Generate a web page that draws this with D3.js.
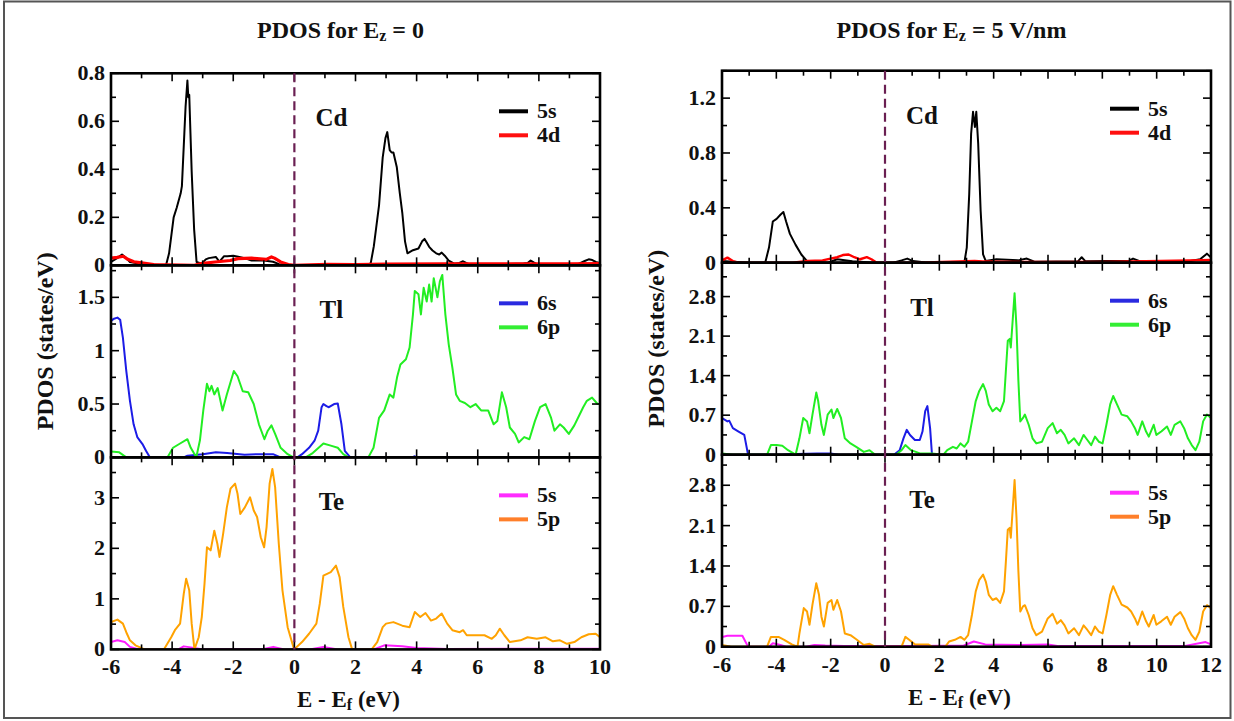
<!DOCTYPE html>
<html>
<head>
<meta charset="utf-8">
<script src="https://cdn.jsdelivr.net/npm/d3@7"></script>
<style>
  body { margin: 0; background: #fff; }
</style>
</head>
<body>
<div id="chart"></div>
<script>
// ---- data: energies (eV) and PDOS (states/eV) ----
// Ez = 0
var cd5s_0 = [[-6,0.014],[-5.8,0.03],[-5.64,0.045],[-5.5,0.03],[-5.38,0.014],[-5,0.005],[-4.2,0],[-4.1,0.05],[-3.95,0.2],[-3.85,0.24],[-3.72,0.3],[-3.68,0.33],[-3.6,0.55],[-3.56,0.66],[-3.5,0.77],[-3.47,0.7],[-3.44,0.71],[-3.4,0.55],[-3.36,0.39],[-3.28,0.15],[-3.2,0.014],[-3.03,0.007],[-2.9,0.025],[-2.8,0.03],[-2.57,0.035],[-2.45,0.015],[-2.3,0.038],[-2.2,0.038],[-2.0,0.04],[-1.8,0.035],[-1.63,0.03],[-1.4,0.02],[-1.0,0.02],[-0.7,0.015],[-0.5,0.005],[0,0],[1,0],[2.4,0],[2.5,0.01],[2.6,0.08],[2.77,0.25],[2.89,0.45],[2.98,0.53],[3.04,0.555],[3.12,0.48],[3.18,0.47],[3.24,0.47],[3.35,0.41],[3.45,0.3],[3.53,0.22],[3.62,0.1],[3.7,0.05],[3.88,0.063],[4.06,0.07],[4.18,0.1],[4.26,0.11],[4.33,0.095],[4.41,0.077],[4.52,0.062],[4.64,0.05],[4.74,0.045],[4.82,0.053],[4.92,0.04],[5.05,0.02],[5.23,0.007],[5.4,0.01],[5.52,0.017],[5.62,0.01],[5.76,0.003],[6.5,0.003],[7.5,0.008],[7.63,0.01],[7.73,0.02],[7.83,0.012],[7.93,0.005],[9.28,0.005],[9.5,0.018],[9.63,0.025],[9.75,0.022],[9.86,0.014],[10,0.01]];
var cd4d_0 = [[-6,0.03],[-5.8,0.033],[-5.6,0.038],[-5.45,0.025],[-5.25,0.015],[-5,0.01],[-4.6,0.003],[-3.27,0],[-3.05,0.007],[-2.6,0.014],[-2.1,0.02],[-1.85,0.028],[-1.4,0.03],[-0.92,0.025],[-0.75,0.035],[-0.65,0.03],[-0.45,0.014],[-0.2,0.003],[0,0],[1.07,0.004],[2,0.003],[3,0.005],[5,0.006],[7,0.006],[9,0.006],[10,0.007]];
var tl6s_0 = [[-6,1.28],[-5.9,1.3],[-5.79,1.31],[-5.7,1.29],[-5.61,1.12],[-5.5,0.81],[-5.38,0.53],[-5.26,0.31],[-5.14,0.19],[-4.97,0.125],[-4.85,0.06],[-4.73,0],[-3.62,0],[-3.5,0.015],[-3,0.03],[-2.57,0.047],[-2.2,0.04],[-1.63,0.025],[-1.2,0.03],[-0.7,0.03],[-0.45,0],[0.1,0],[0.25,0.03],[0.48,0.09],[0.66,0.156],[0.78,0.25],[0.89,0.47],[0.95,0.5],[1.05,0.48],[1.13,0.47],[1.3,0.5],[1.42,0.505],[1.54,0.31],[1.65,0.06],[1.83,0],[3.85,0],[3.94,0.01],[4.02,0],[10,0]];
var tl6p_0 = [[-6,0.056],[-5.73,0.047],[-5.5,0],[-4.15,0],[-3.97,0.09],[-3.74,0.13],[-3.5,0.17],[-3.39,0.09],[-3.21,0],[-3.09,0.16],[-2.98,0.44],[-2.86,0.69],[-2.78,0.62],[-2.71,0.67],[-2.62,0.59],[-2.51,0.65],[-2.35,0.44],[-2.21,0.59],[-1.98,0.81],[-1.86,0.76],[-1.69,0.62],[-1.51,0.61],[-1.33,0.5],[-1.16,0.31],[-0.98,0.17],[-0.87,0.25],[-0.75,0.3],[-0.63,0.22],[-0.45,0.09],[-0.22,0.03],[-0.03,0],[0.37,0],[0.6,0.04],[0.95,0.13],[1.19,0.11],[1.42,0.09],[1.6,0.03],[1.77,0],[2.42,0],[2.59,0.09],[2.77,0.37],[2.94,0.44],[3.12,0.59],[3.24,0.56],[3.36,0.75],[3.47,0.87],[3.65,0.92],[3.77,1.03],[3.88,1.34],[3.94,1.56],[4.06,1.53],[4.14,1.34],[4.23,1.59],[4.33,1.46],[4.41,1.62],[4.49,1.46],[4.56,1.68],[4.68,1.5],[4.76,1.65],[4.84,1.71],[4.94,1.34],[5.05,1.06],[5.17,0.84],[5.29,0.59],[5.41,0.53],[5.58,0.51],[5.76,0.47],[5.93,0.5],[6.11,0.44],[6.34,0.44],[6.52,0.31],[6.64,0.34],[6.79,0.61],[6.93,0.47],[7.05,0.28],[7.22,0.22],[7.34,0.14],[7.52,0.19],[7.69,0.17],[7.87,0.34],[8.04,0.47],[8.22,0.5],[8.4,0.37],[8.51,0.25],[8.69,0.31],[8.81,0.28],[8.98,0.22],[9.16,0.3],[9.33,0.4],[9.45,0.47],[9.57,0.53],[9.74,0.56],[9.92,0.5],[10,0.5]];
var te5s_0 = [[-6,0.145],[-5.79,0.18],[-5.55,0.145],[-5.38,0.05],[-5.08,0],[-3.8,0],[-3.62,0.06],[-3.39,0.04],[-3.03,0.005],[-1,0.01],[-0.69,0.05],[-0.33,0],[0.5,0],[0.95,0.05],[1.42,0],[2.6,0],[2.94,0.08],[3.53,0.06],[4,0.03],[5,0.01],[10,0.015]];
var te5p_0 = [[-6,0.54],[-5.79,0.59],[-5.61,0.51],[-5.5,0.34],[-5.38,0.18],[-5.2,0.08],[-4.9,0],[-4.27,0],[-4.03,0.24],[-3.91,0.38],[-3.74,0.51],[-3.62,1.1],[-3.54,1.4],[-3.44,1.17],[-3.36,0.51],[-3.27,0],[-3.13,0.24],[-3.03,0.64],[-2.94,1.3],[-2.86,2.02],[-2.74,1.96],[-2.62,2.35],[-2.52,2.09],[-2.45,1.83],[-2.33,2.29],[-2.21,2.81],[-2.09,3.18],[-1.94,3.28],[-1.86,3.08],[-1.77,2.68],[-1.62,2.81],[-1.45,3.01],[-1.33,2.75],[-1.22,2.62],[-1.1,2.22],[-0.99,2.02],[-0.91,2.42],[-0.81,3.28],[-0.72,3.57],[-0.63,3.21],[-0.51,2.09],[-0.39,1.17],[-0.22,0.44],[-0.01,0],[0.25,0.145],[0.48,0.31],[0.72,0.51],[0.83,0.9],[0.95,1.46],[1.19,1.53],[1.36,1.66],[1.48,1.43],[1.6,0.84],[1.77,0.24],[1.89,0],[2.53,0],[2.71,0.145],[2.89,0.44],[3.0,0.51],[3.24,0.54],[3.53,0.47],[3.77,0.44],[3.94,0.74],[4.12,0.64],[4.29,0.72],[4.47,0.57],[4.64,0.61],[4.82,0.71],[5.0,0.51],[5.17,0.38],[5.41,0.34],[5.52,0.38],[5.64,0.28],[5.93,0.28],[6.22,0.28],[6.46,0.21],[6.59,0.28],[6.72,0.41],[6.87,0.28],[7.05,0.145],[7.4,0.18],[7.63,0.24],[7.93,0.21],[8.22,0.24],[8.46,0.16],[8.69,0.18],[8.92,0.11],[9.16,0.145],[9.39,0.24],[9.63,0.3],[9.86,0.31],[10,0.24]];

// Ez = 5 V/nm
var cd5s_5 = [[-6,0.012],[-5,0],[-4.41,0],[-4.27,0.11],[-4.13,0.3],[-3.99,0.32],[-3.85,0.35],[-3.74,0.37],[-3.64,0.3],[-3.5,0.21],[-3.29,0.13],[-3.08,0.06],[-2.87,0.012],[-2.1,0],[-1.76,0.025],[-1.2,0.01],[-0.36,0],[0.3,0],[0.61,0.017],[0.82,0.03],[1.03,0.012],[1.59,0],[2.92,0],[3.01,0.11],[3.1,0.5],[3.17,0.94],[3.24,1.1],[3.31,0.99],[3.36,1.1],[3.43,0.87],[3.52,0.38],[3.61,0.06],[3.71,0.012],[4.1,0.025],[4.9,0.017],[5.22,0.03],[5.5,0.007],[7.1,0.01],[7.24,0.04],[7.38,0.01],[8.99,0.015],[9.13,0.03],[9.4,0.01],[11.2,0.01],[11.6,0.025],[11.85,0.066],[12,0.037]];
var cd4d_5 = [[-6,0.017],[-5.8,0.037],[-5.6,0.012],[-5.4,0],[-3.4,0],[-2.85,0.012],[-2.3,0.017],[-1.76,0.04],[-1.55,0.056],[-1.34,0.06],[-1.13,0.04],[-0.92,0.025],[-0.67,0.04],[-0.5,0.025],[-0.3,0],[1.5,0.002],[3.3,0.012],[3.6,0.01],[5,0.005],[8,0.005],[11.2,0.017],[12,0.02]];
var tl6s_5 = [[-6,0.65],[-5.8,0.59],[-5.73,0.6],[-5.6,0.47],[-5.39,0.41],[-5.18,0.35],[-5.04,0],[-3.8,0],[-3.6,0.01],[-2.5,0.02],[-2.0,0.02],[-1.7,0],[0.33,0],[0.54,0.08],[0.68,0.29],[0.8,0.44],[0.92,0.35],[1.1,0.26],[1.28,0.26],[1.38,0.41],[1.48,0.77],[1.56,0.86],[1.66,0.47],[1.73,0],[12,0]];
var tl6p_5 = [[-6,0.02],[-5.6,0],[-4.34,0],[-4.2,0.17],[-3.99,0.17],[-3.78,0.16],[-3.57,0.08],[-3.29,0],[-3.15,0.29],[-3.01,0.65],[-2.87,0.59],[-2.78,0.38],[-2.67,0.71],[-2.53,1.1],[-2.46,0.95],[-2.34,0.53],[-2.25,0.35],[-2.11,0.71],[-1.97,0.8],[-1.9,0.65],[-1.76,0.81],[-1.62,0.65],[-1.48,0.29],[-1.27,0.2],[-1.06,0.14],[-0.78,0.05],[-0.57,0.08],[-0.36,0],[0.4,0],[0.61,0.08],[0.75,0.17],[0.96,0.08],[1.31,0.02],[1.73,0.02],[2.15,0],[2.29,0.08],[2.5,0.14],[2.64,0.11],[2.78,0.2],[2.92,0.14],[3.06,0.23],[3.2,0.59],[3.34,0.95],[3.47,1.13],[3.61,1.25],[3.71,1.13],[3.82,0.89],[3.96,0.77],[4.1,0.83],[4.24,0.77],[4.38,0.95],[4.45,1.49],[4.52,2.02],[4.59,2.05],[4.63,1.9],[4.7,2.38],[4.77,2.86],[4.84,2.26],[4.91,1.31],[4.98,0.59],[5.08,0.65],[5.15,0.71],[5.29,0.53],[5.43,0.29],[5.57,0.2],[5.78,0.23],[5.99,0.47],[6.17,0.56],[6.33,0.38],[6.47,0.44],[6.61,0.35],[6.75,0.2],[6.96,0.29],[7.14,0.17],[7.31,0.35],[7.45,0.26],[7.59,0.17],[7.73,0.32],[7.87,0.23],[8.01,0.2],[8.15,0.53],[8.29,0.89],[8.4,1.04],[8.54,0.89],[8.71,0.71],[8.92,0.68],[9.06,0.59],[9.2,0.47],[9.3,0.35],[9.47,0.59],[9.61,0.41],[9.71,0.32],[9.89,0.53],[9.99,0.35],[10.17,0.41],[10.38,0.5],[10.52,0.35],[10.66,0.53],[10.87,0.59],[11.01,0.47],[11.15,0.29],[11.29,0.17],[11.43,0.08],[11.57,0.23],[11.71,0.59],[11.85,0.71],[12,0.65]];
var te5s_5 = [[-6,0.17],[-5.8,0.19],[-5.25,0.19],[-5.04,0],[-4.27,0],[-4.13,0.06],[-3.85,0.03],[-3.64,0],[-2.9,0],[-2.6,0.03],[-2.2,0.02],[-1.5,0.01],[0.5,0.01],[1.2,0.01],[2.9,0.02],[3.27,0.09],[3.69,0.04],[5,0.03],[6,0.04],[6.4,0.01],[11,0.01],[11.8,0.08],[12,0.04]];
var te5p_5 = [[-6,0.03],[-5.66,0],[-4.34,0],[-4.2,0.17],[-3.92,0.17],[-3.71,0.12],[-3.43,0.04],[-3.22,0],[-3.15,0.23],[-2.99,0.67],[-2.87,0.61],[-2.78,0.38],[-2.67,0.73],[-2.53,1.1],[-2.43,0.9],[-2.34,0.52],[-2.25,0.35],[-2.11,0.76],[-1.97,0.81],[-1.9,0.64],[-1.76,0.81],[-1.62,0.61],[-1.48,0.23],[-1.27,0.2],[-1.06,0.13],[-0.78,0.03],[-0.57,0.05],[-0.36,0],[0.61,0],[0.75,0.17],[0.89,0.12],[1.1,0.04],[1.59,0.04],[1.73,0],[2.22,0],[2.36,0.09],[2.57,0.12],[2.78,0.17],[2.92,0.12],[3.06,0.2],[3.2,0.55],[3.34,0.96],[3.47,1.16],[3.61,1.25],[3.71,1.13],[3.82,0.9],[3.96,0.81],[4.1,0.84],[4.24,0.76],[4.38,0.96],[4.45,1.48],[4.52,2.03],[4.59,2.06],[4.63,1.89],[4.7,2.38],[4.77,2.89],[4.84,2.24],[4.91,1.31],[4.98,0.61],[5.08,0.7],[5.15,0.72],[5.29,0.55],[5.43,0.32],[5.57,0.2],[5.78,0.26],[5.99,0.49],[6.17,0.57],[6.33,0.4],[6.47,0.46],[6.61,0.37],[6.75,0.23],[6.96,0.32],[7.14,0.2],[7.31,0.37],[7.45,0.29],[7.59,0.2],[7.73,0.35],[7.87,0.26],[8.01,0.23],[8.15,0.55],[8.29,0.9],[8.4,1.05],[8.54,0.9],[8.71,0.73],[8.92,0.68],[9.06,0.61],[9.2,0.49],[9.3,0.38],[9.47,0.61],[9.61,0.44],[9.71,0.35],[9.89,0.55],[9.99,0.38],[10.17,0.44],[10.38,0.52],[10.52,0.38],[10.66,0.52],[10.87,0.6],[11.01,0.49],[11.15,0.32],[11.29,0.2],[11.43,0.12],[11.57,0.26],[11.71,0.61],[11.85,0.72],[12,0.67]];

// axis domains and ticks
var xDomain0 = [-6, 10];
var xDomain5 = [-6, 12];
var xTicks0 = [-6, -4, -2, 0, 2, 4, 6, 8, 10];
var xTicks5 = [-6, -4, -2, 0, 2, 4, 6, 8, 10, 12];
var atoms = ['Cd', 'Tl', 'Te'];
var orbitals = [['5s', '4d'], ['6s', '6p'], ['5s', '5p']];
var yMax0 = [0.8, 1.8, 3.8];
var yMax5 = [1.4, 3.4, 3.33];
var yTicks0 = [[0, 0.2, 0.4, 0.6, 0.8], [0, 0.5, 1, 1.5], [0, 1, 2, 3]];
var yTicks5 = [[0, 0.4, 0.8, 1.2], [0, 0.7, 1.4, 2.1, 2.8], [0, 0.7, 1.4, 2.1, 2.8]];

// ---- styling ----
var lineColors = [['#000000', '#ff0000'], ['#1c1ce6', '#22ee22'], ['#ff1cff', '#ffa200']];
var legendColors = [['#000000', '#ff1010'], ['#2a2ae0', '#33ee33'], ['#ff2cff', '#ff7f2a']];
var serif = '"Liberation Serif", "Times New Roman", "DejaVu Serif", serif';

var svgWidth = 1234;
var svgHeight = 721;
var svg = d3.select('#chart')
    .append('svg')
    .attr('width', svgWidth)
    .attr('height', svgHeight)
    .style('font-family', serif)
    .style('font-weight', 'bold');

// outer frame
svg.append('rect')
    .attr('x', 4).attr('y', 1.5)
    .attr('width', 1226.5).attr('height', 716.5)
    .attr('fill', 'none')
    .attr('stroke', '#555')
    .attr('stroke-width', 2);

var panels = [
    {left: 111, right: 600, top: 73.3, bottom: 649.4, xDomain: xDomain0, xTicks: xTicks0, yMax: yMax0, yTicks: yTicks0,
     series: [[cd5s_0, cd4d_0], [tl6s_0, tl6p_0], [te5s_0, te5p_0]], title: '0', redWidth: 3.2},
    {left: 722, right: 1211, top: 70.7, bottom: 646.7, xDomain: xDomain5, xTicks: xTicks5, yMax: yMax5, yTicks: yTicks5,
     series: [[cd5s_5, cd4d_5], [tl6s_5, tl6p_5], [te5s_5, te5p_5]], title: '5 V/nm', redWidth: 2.4}
];

function txt(sel) {
    return sel.attr('font-family', serif).attr('font-weight', 'bold').attr('fill', '#111');
}

panels.forEach(function(p, pi) {
    var xScale = d3.scaleLinear().domain(p.xDomain).range([p.left, p.right]);
    var subH = (p.bottom - p.top) / 3;
    var g = svg.append('g');

    // title
    var cx = (p.left + p.right) / 2 - 15;
    var title = txt(g.append('text'))
        .attr('x', cx).attr('y', 38)
        .attr('text-anchor', 'middle')
        .attr('font-size', 24);
    title.append('tspan').text('PDOS for E');
    title.append('tspan').text('z').attr('font-size', 16).attr('dy', 3);
    title.append('tspan').text(' = ' + p.title).attr('dy', -3);

    // x label
    var xl = txt(g.append('text'))
        .attr('x', cx + 8).attr('y', p.bottom + 58)
        .attr('text-anchor', 'middle')
        .attr('font-size', 23);
    xl.append('tspan').text('E - E');
    xl.append('tspan').text('f').attr('font-size', 16).attr('dy', 3);
    xl.append('tspan').text(' (eV)').attr('dy', -3);

    // y label
    txt(g.append('text'))
        .attr('transform', 'translate(' + (p.left - 58) + ',' + ((p.top + p.bottom) / 2 - 20) + ') rotate(-90)')
        .attr('text-anchor', 'middle')
        .attr('font-size', 24)
        .text('PDOS (states/eV)');

    for (var k = 0; k < 3; k++) {
        var top = p.top + k * subH;
        var bot = top + subH;
        var yScale = d3.scaleLinear().domain([0, p.yMax[k]]).range([bot, top]);
        var step = p.yTicks[k][1] - p.yTicks[k][0];
        var ng = g.append('g');

        // clip
        var clipId = 'clip' + pi + k;
        ng.append('clipPath').attr('id', clipId)
            .append('rect').attr('x', p.left).attr('y', top - 2)
            .attr('width', p.right - p.left).attr('height', subH + 2);

        // data lines
        var line = d3.line().x(d => xScale(d[0])).y(d => yScale(d[1]));
        [0, 1].forEach(function(s) {
            ng.append('path')
                .datum(p.series[k][s])
                .attr('clip-path', 'url(#' + clipId + ')')
                .attr('d', line)
                .attr('fill', 'none')
                .attr('stroke', lineColors[k][s])
                .attr('stroke-width', (k === 0 && s === 1) ? p.redWidth : 2)
                .attr('stroke-linejoin', 'round');
        });

        // x ticks top & bottom (major every 2, minor every 1)
        var xMinor = d3.range(p.xDomain[0], p.xDomain[1] + 0.01, 1);
        xMinor.forEach(function(v) {
            var len = (v % 2 === 0) ? 8 : 5;
            var X = xScale(v);
            ng.append('line').attr('x1', X).attr('x2', X).attr('y1', bot).attr('y2', bot - len)
                .attr('stroke', '#000').attr('stroke-width', 1.6);
            ng.append('line').attr('x1', X).attr('x2', X).attr('y1', top).attr('y2', top + len)
                .attr('stroke', '#000').attr('stroke-width', 1.6);
        });

        // y ticks left & right
        var yMinor = d3.range(0, p.yMax[k] + 1e-6, step / 2);
        yMinor.forEach(function(v, i) {
            var len = (i % 2 === 0) ? 8 : 5;
            var Y = yScale(v);
            ng.append('line').attr('x1', p.left).attr('x2', p.left + len).attr('y1', Y).attr('y2', Y)
                .attr('stroke', '#000').attr('stroke-width', 1.6);
            ng.append('line').attr('x1', p.right).attr('x2', p.right - len).attr('y1', Y).attr('y2', Y)
                .attr('stroke', '#000').attr('stroke-width', 1.6);
        });

        // y tick labels
        txt(ng.selectAll('.ylab')
            .data(p.yTicks[k])
            .enter()
            .append('text'))
            .attr('x', p.left - 6)
            .attr('y', d => yScale(d) + 7)
            .attr('text-anchor', 'end')
            .attr('font-size', 22)
            .text(d => d3.format('~g')(d));

        // frame
        ng.append('rect')
            .attr('x', p.left).attr('y', top)
            .attr('width', p.right - p.left).attr('height', subH)
            .attr('fill', 'none')
            .attr('stroke', '#000')
            .attr('stroke-width', 2.6);

        // atom label
        txt(ng.append('text'))
            .attr('x', xScale(0) + 37).attr('y', top + 53)
            .attr('text-anchor', 'middle')
            .attr('font-size', 25)
            .text(atoms[k]);

        // legend
        [0, 1].forEach(function(s) {
            var ly = top + 38 + s * 24;
            ng.append('line')
                .attr('x1', p.right - 101).attr('x2', p.right - 72)
                .attr('y1', ly).attr('y2', ly)
                .attr('stroke', legendColors[k][s])
                .attr('stroke-width', 4);
            txt(ng.append('text'))
                .attr('x', p.right - 63).attr('y', ly + 7)
                .attr('font-size', 22)
                .text(orbitals[k][s]);
        });
    }

    // dashed Fermi level line
    g.append('line')
        .attr('x1', xScale(0)).attr('x2', xScale(0))
        .attr('y1', p.top).attr('y2', p.bottom)
        .attr('stroke', '#6a1f52')
        .attr('stroke-width', 2.2)
        .attr('stroke-dasharray', '9,5');

    // x tick labels under bottom panel
    txt(g.selectAll('.xlab')
        .data(p.xTicks)
        .enter()
        .append('text'))
        .attr('x', d => xScale(d))
        .attr('y', p.bottom + 25)
        .attr('text-anchor', 'middle')
        .attr('font-size', 22)
        .text(d => d);
});
</script>
</body>
</html>
